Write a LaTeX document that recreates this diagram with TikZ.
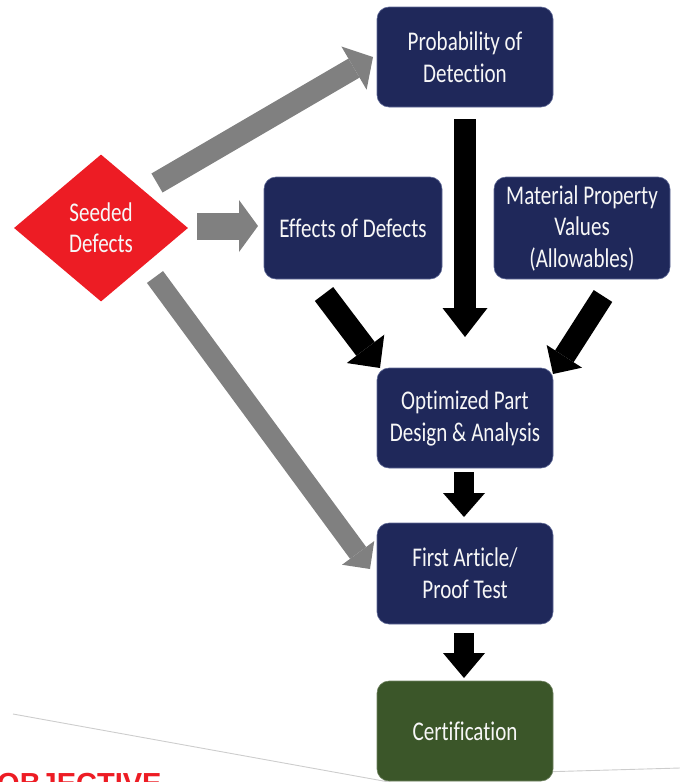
\documentclass[tikz,border=0pt]{standalone}
\usepackage{fontspec}
\usetikzlibrary{shapes.geometric,arrows.meta}
\newfontfamily\boxfont[FakeStretch=0.78,Ligatures=NoCommon]{Carlito}
\newfontfamily\objfont{Liberation Sans}
\definecolor{navy}{RGB}{31,40,90}
\definecolor{navyedge}{RGB}{95,105,150}
\definecolor{leaf}{RGB}{59,86,41}
\definecolor{leafedge}{RGB}{110,130,95}
\definecolor{seedred}{RGB}{237,28,36}
\definecolor{arrowgrey}{RGB}{128,128,128}
\definecolor{swoosh}{RGB}{205,205,205}
\begin{document}
\begin{tikzpicture}[x=1pt,y=-1pt,
  box/.style={draw=navyedge, line width=0.6pt, fill=navy, rounded corners=12pt,
    minimum width=176pt, minimum height=100pt, inner sep=0pt, align=center,
    text=white!94!gray, font=\boxfont\fontsize{27}{32}\selectfont},
  seed/.style={diamond, fill=seedred, minimum width=174pt, minimum height=147pt,
    inner sep=0pt, align=center, text=white!94!gray,
    font=\boxfont\fontsize{27}{31}\selectfont},
  fatgrey/.style={draw=arrowgrey, line width=#1},
  fatblack/.style={draw=black, line width=#1},
  objtext/.style={text=seedred, font=\objfont\bfseries\fontsize{29}{34}\selectfont,
    inner sep=0pt, anchor=base west}
]
\useasboundingbox (0,0) rectangle (680,782);
\begin{scope}
\clip (0,0) rectangle (680,782);
% background swoosh line
\coordinate (s1) at (13,714);
\coordinate (s2) at (400,784);
\coordinate (s3) at (540,772);
\coordinate (s4) at (680,768);
\draw[swoosh, line width=0.9pt] (s1) -- (s2);
\draw[swoosh, line width=0.9pt] (s3) -- (s4);
% objective heading (cut off at the bottom edge, as in the reference)
\node[objtext] (obj) at (-3,793) {OBJECTIVE};

% nodes
\node[seed] (sd) at (101,228) {Seeded\\Defects};
\node[box] (prob) at (465,57) {Probability of\\Detection};
\node[box, minimum width=178pt, minimum height=102pt] (eff) at (353,228) {Effects of Defects};
\node[box, minimum height=102pt, font=\boxfont\fontsize{27}{31.5}\selectfont] (mat) at (582,228) {Material Property\\Values\\(Allowables)};
\node[box] (opt) at (465,418) {Optimized Part\\Design \& Analysis};
\node[box, minimum height=101pt] (first) at (465,573.5) {First Article/\\Proof Test};
\node[box, fill=leaf, draw=leafedge] (cert) at (465,731) {Certification};

% connector end points
\coordinate (a1t) at (157,183);   \coordinate (a1h) at (373,57);
\coordinate (a2t) at (197,226);   \coordinate (a2h) at (258,226);
\coordinate (a3t) at (155,277);   \coordinate (a3h) at (370,569);
\coordinate (a4t) at (465,119);   \coordinate (a4h) at (465,337);
\coordinate (a5t) at (324,294);   \coordinate (a5h) at (380,368);
\coordinate (a6t) at (603,296);   \coordinate (a6h) at (553,374);
\coordinate (a7t) at (464,472);   \coordinate (a7h) at (464,517);
\coordinate (a8t) at (464,633);   \coordinate (a8h) at (464,678);

% grey arrows from seeded defects
\draw[fatgrey=22pt, -{Triangle[length=22pt,width=50pt,line width=0pt]}] (a1t) -- (a1h);
\draw[fatgrey=27pt, -{Triangle[length=19pt,width=52pt,line width=0pt]}] (a2t) -- (a2h);
\draw[fatgrey=20pt, -{Triangle[length=20pt,width=40pt,line width=0pt]}] (a3t) -- (a3h);
% black arrows
\draw[fatblack=22pt, -{Triangle[length=29pt,width=45pt,line width=0pt]}] (a4t) -- (a4h);
\draw[fatblack=23pt, -{Triangle[length=24pt,width=47pt,line width=0pt]}] (a5t) -- (a5h);
\draw[fatblack=22pt, -{Triangle[length=21pt,width=42pt,line width=0pt]}] (a6t) -- (a6h);
\draw[fatblack=20pt, -{Triangle[length=24pt,width=42pt,line width=0pt]}] (a7t) -- (a7h);
\draw[fatblack=20pt, -{Triangle[length=25pt,width=42pt,line width=0pt]}] (a8t) -- (a8h);
\end{scope}
\end{tikzpicture}
\end{document}
